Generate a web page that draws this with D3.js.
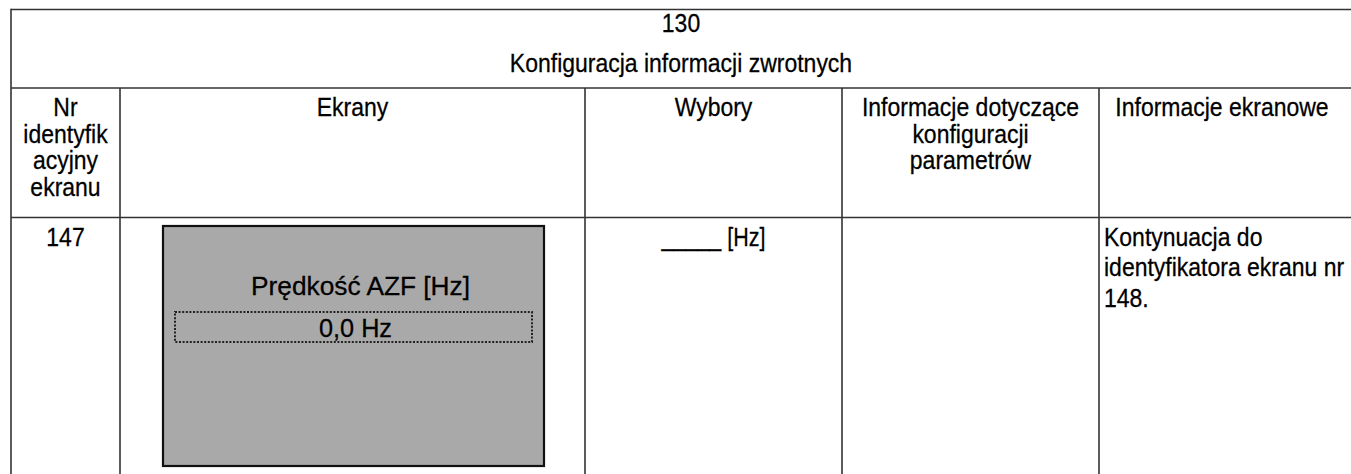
<!DOCTYPE html>
<html>
<head>
<meta charset="utf-8">
<script src="https://cdn.jsdelivr.net/npm/d3@7"></script>
<style>
  html, body { margin: 0; padding: 0; background: #fff; }
  svg { display: block; }
  text { font-family: "Liberation Sans", Arial, sans-serif; fill: #000; stroke: #000; stroke-width: 0.25; }
</style>
</head>
<body>
<svg id="chart" width="1351" height="474"></svg>
<script>
// ---- content ----
const titleLines = ["130", "Konfiguracja informacji zwrotnych"];
const columns = ["Nr identyfikacyjny ekranu", "Ekrany", "Wybory",
                 "Informacje dotyczące konfiguracji parametrów", "Informacje ekranowe"];
const headerLines = [
  ["Nr", "identyfik", "acyjny", "ekranu"],
  ["Ekrany"],
  ["Wybory"],
  ["Informacje dotyczące", "konfiguracji", "parametrów"],
  ["Informacje ekranowe"]
];
const rowId = ["147"];
const screenTitle = ["Prędkość AZF [Hz]"];
const screenValue = ["0,0 Hz"];
const choices = ["_____ [Hz]"];
const paramInfo = [];
const screenInfo = ["Kontynuacja do", "identyfikatora ekranu nr", "148."];

// ---- layout ----
const svg = d3.select("#chart");
const W = 1351, H = 474;
const tblLeft = 11, tblTop = 9.5, headY = 88, rowY = 217.5;
const colEdges = [11, 120, 585, 842, 1099, 1345];
const xEdge = d3.scaleOrdinal().domain(columns).range(colEdges.slice(0, 5));
const xEnd = d3.scaleOrdinal().domain(columns).range(colEdges.slice(1));
const colCenter = c => (xEdge(c) + xEnd(c)) / 2;
const fs = 23;
const sy = 1.1;
const lineStroke = "#333";

function addText(cls, data, xf, yf, anchor, extra) {
  const sel = svg.selectAll("text." + cls).data(data).join("text").attr("class", cls)
    .attr("transform", (d, i) => `translate(${xf(d, i)},${yf(d, i)}) scale(1,${sy})`)
    .attr("text-anchor", anchor).attr("font-size", fs).text(d => d);
  if (extra) extra(sel);
  return sel;
}

// table lines
const g = svg.append("g");
g.append("line").attr("x1", tblLeft).attr("x2", W).attr("y1", tblTop).attr("y2", tblTop)
  .attr("stroke", lineStroke).attr("stroke-width", 1.6);
g.append("line").attr("x1", tblLeft).attr("x2", tblLeft).attr("y1", tblTop - 0.8).attr("y2", H)
  .attr("stroke", lineStroke).attr("stroke-width", 1.6);
[headY, rowY].forEach(y => g.append("line").attr("x1", tblLeft).attr("x2", W)
  .attr("y1", y).attr("y2", y).attr("stroke", lineStroke).attr("stroke-width", 1.6));
g.selectAll("line.col").data(columns.slice(1)).join("line").attr("class", "col")
  .attr("x1", d => xEdge(d)).attr("x2", d => xEdge(d))
  .attr("y1", headY).attr("y2", H)
  .attr("stroke", lineStroke).attr("stroke-width", 1.6);

// title
const titleX = (tblLeft + W) / 2;
addText("title", titleLines, () => titleX, (d, i) => 32 + i * 39.5, "middle");

// header
columns.forEach((c, ci) => {
  addText("h" + ci, headerLines[ci], () => colCenter(c), (d, i) => 116 + i * 26.5, "middle");
});

// row: id
addText("rid", rowId, () => colCenter(columns[0]), () => 246, "middle");

// screen box
const boxX = 163, boxY = 226, boxW = 381, boxH = 240;
svg.append("rect").attr("x", boxX).attr("y", boxY).attr("width", boxW).attr("height", boxH)
  .attr("fill", "#a9a9a9").attr("stroke", "#111").attr("stroke-width", 2.2);
const bcx = boxX + boxW / 2;
addText("st", screenTitle, () => bcx + 7, () => 295, "middle",
  s => s.attr("textLength", 219).attr("lengthAdjust", "spacingAndGlyphs"));
svg.append("rect").attr("x", 175).attr("y", 312).attr("width", 357).attr("height", 30)
  .attr("fill", "none").attr("stroke", "#222").attr("stroke-width", 2)
  .attr("stroke-dasharray", "2,1.6");
addText("sv", screenValue, () => bcx + 2, () => 336.5, "middle",
  s => s.attr("textLength", 73).attr("lengthAdjust", "spacingAndGlyphs"));

// choices
addText("ch", choices, () => colCenter(columns[2]), () => 246, "middle",
  s => s.attr("textLength", 104).attr("lengthAdjust", "spacingAndGlyphs"));

// param info (empty)
addText("pi", paramInfo, () => colCenter(columns[3]), () => 246, "middle");

// screen info
addText("si", screenInfo, () => xEdge(columns[4]) + 5, (d, i) => 245.5 + i * 30.5, "start");
</script>
</body>
</html>
